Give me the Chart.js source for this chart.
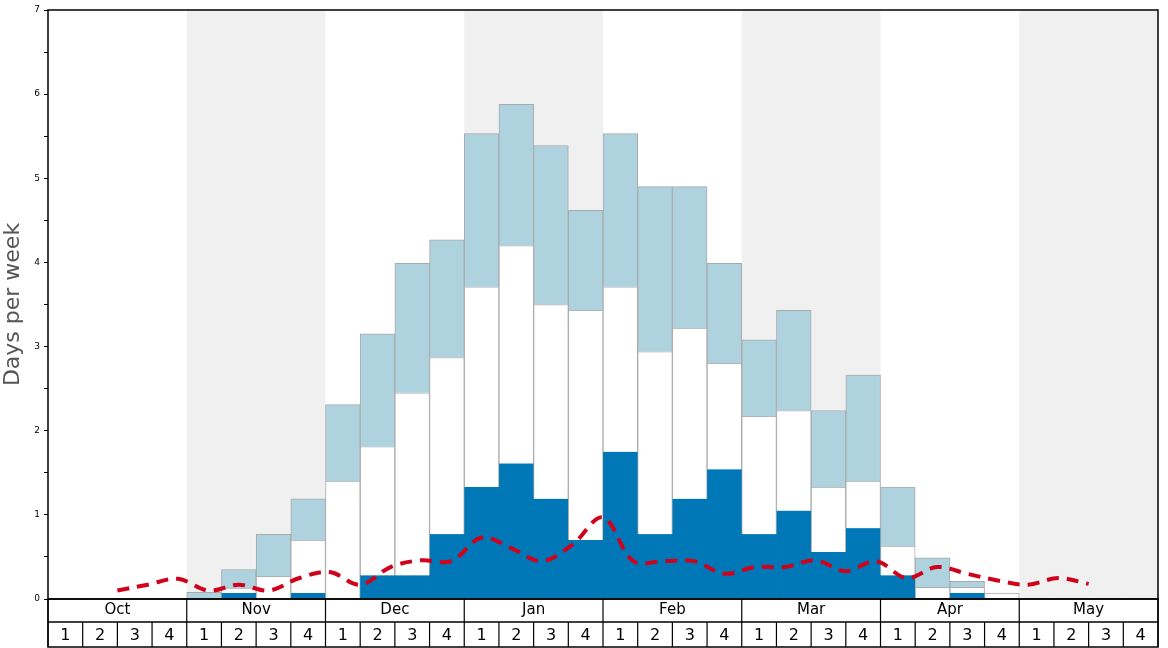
<!DOCTYPE html>
<html><head><meta charset="utf-8">
<script src="https://cdn.jsdelivr.net/npm/chart.js@4"></script>
<style>html,body{margin:0;padding:0;background:#fff}#w{width:1168px;height:648px}</style>
</head><body><div id="w"><canvas id="c"></canvas></div>
<script>
const months = ["Oct","Nov","Dec","Jan","Feb","Mar","Apr","May"];
const weekLabels = [];
months.forEach(m=>{for(let i=1;i<=4;i++) weekLabels.push(m+" "+i);});
const darkTop  = [0,0,0,0, 0,0.07,0,0.07, 0,0.28,0.28,0.77, 1.33,1.61,1.19,0.70, 1.75,0.77,1.19,1.54, 0.77,1.05,0.56,0.84, 0.28,0,0.07,0, 0,0,0,0];
const whiteTop = [0,0,0,0, 0,0.13,0.27,0.70, 1.40,1.81,2.45,2.87, 3.71,4.20,3.50,3.43, 3.71,2.94,3.22,2.80, 2.17,2.24,1.33,1.40, 0.63,0.14,0.14,0.07, 0,0,0,0];
const lightTop = [0,0,0,0, 0.08,0.35,0.77,1.19, 2.31,3.15,3.99,4.27, 5.53,5.88,5.39,4.62, 5.53,4.90,4.90,3.99, 3.08,3.43,2.24,2.66, 1.33,0.49,0.21,0, 0,0,0,0];
const avgLine = [0.10,0.17,0.24,0.10,0.17,0.10,0.25,0.32,0.17,0.38,0.46,0.45,0.73,0.60,0.45,0.65,0.97,0.45,0.45,0.45,0.30,0.38,0.38,0.46,0.33,0.45,0.25,0.38,0.30,0.22,0.17,0.25,0.18];

const seg1 = darkTop.map(v=>[0,v]);
const seg2 = whiteTop.map((v,i)=>v>darkTop[i]?[darkTop[i],v]:null);
const seg3 = lightTop.map((v,i)=>v>whiteTop[i]?[whiteTop[i],v]:null);

const deco = {
  id:'deco',
  beforeDatasetsDraw(ch){
    const {ctx,chartArea:a}=ch; const x=ch.scales.x;
    const w=(a.right-a.left)/32;
    ctx.save(); ctx.fillStyle='#f0f0f0';
    [1,3,5,7].forEach(m=>ctx.fillRect(a.left+m*4*w,a.top,4*w,a.bottom-a.top));
    ctx.restore();
  },
  afterDraw(ch){
    const {ctx,chartArea:a}=ch; const w=(a.right-a.left)/32;
    ctx.save(); ctx.strokeStyle='#000'; ctx.lineWidth=1.5;
    ctx.strokeRect(a.left,a.top,a.right-a.left,a.bottom-a.top);
    const y1=a.bottom, y2=a.bottom+23, y3=647;
    ctx.strokeRect(a.left,y1,a.right-a.left,y3-y1);
    ctx.beginPath(); ctx.moveTo(a.left,y2); ctx.lineTo(a.right,y2); ctx.stroke();
    ctx.fillStyle='#000'; ctx.textAlign='center'; ctx.textBaseline='middle';
    ctx.lineWidth=1.2;
    for(let i=0;i<=32;i++){
      const xx=a.left+i*w;
      ctx.beginPath(); ctx.moveTo(xx,i%4==0?y1:y2); ctx.lineTo(xx,y3); ctx.stroke();
      if(i<32){ ctx.font='16px "DejaVu Sans"'; ctx.fillText(String(i%4+1),xx+w/2,(y2+y3)/2+1); }
    }
    ctx.font='15px "DejaVu Sans"';
    months.forEach((m,k)=>ctx.fillText(m,a.left+(k*4+2)*w,(y1+y2)/2));
    ctx.restore();
  }
};

new Chart(document.getElementById('c'),{
  type:'bar',
  data:{labels:weekLabels,datasets:[
    {type:'line',data:avgLine.map((v,i)=>({x:i,y:v})),xAxisID:'xl',borderColor:'#d0021b',borderWidth:4,borderDash:[12,8],pointRadius:0,tension:0.35,fill:false,order:0},
    {data:seg1,backgroundColor:'#0077b6',borderWidth:0,grouped:false,barPercentage:1,categoryPercentage:1,order:3},
    {data:seg2,backgroundColor:'#ffffff',borderColor:'#aaaaaa',borderWidth:1,grouped:false,barPercentage:1,categoryPercentage:1,order:2},
    {data:seg3,backgroundColor:'#aed3df',borderColor:'#aaaaaa',borderWidth:1,grouped:false,barPercentage:1,categoryPercentage:1,order:1}
  ]},
  options:{responsive:true,maintainAspectRatio:false,animation:false,
    layout:{padding:{top:10,right:10,bottom:49,left:0}},
    plugins:{legend:{display:false},tooltip:{enabled:false}},
    scales:{
      x:{display:false,offset:true},
      xl:{type:'linear',display:false,min:0,max:32},
      y:{min:0,max:7,afterFit(s){s.width=48;},
        ticks:{stepSize:0.5,font:{size:9,family:'DejaVu Sans'},color:'#000',padding:4,
          callback:v=>Number.isInteger(v)?String(v):''},
        grid:{display:true,drawOnChartArea:false,tickLength:4,color:'#000'},
        border:{display:false},
        title:{display:true,text:'Days per week',font:{size:22,family:'DejaVu Sans'},color:'#555',padding:0}}
    }},
  plugins:[deco]
});
</script></body></html>
